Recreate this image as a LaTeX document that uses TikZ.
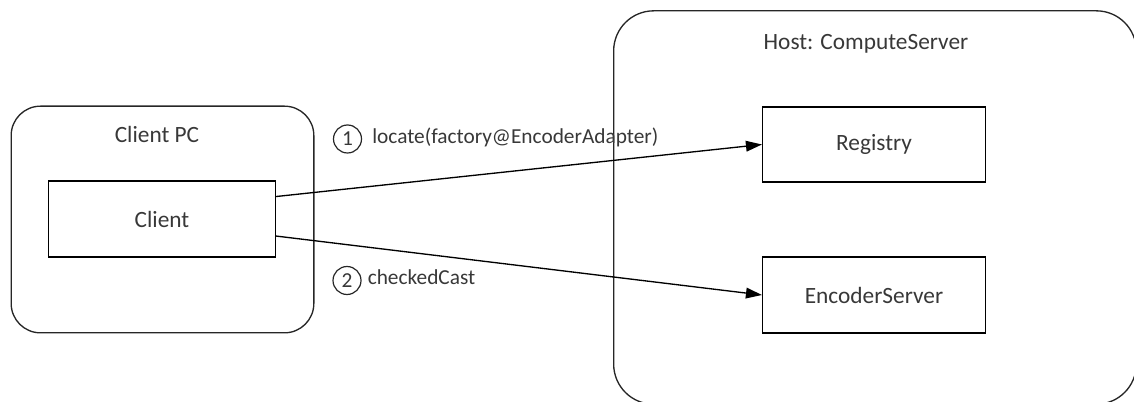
\documentclass[tikz,border=0pt]{standalone}
\usepackage{fontspec}
\setmainfont{Carlito}
\usetikzlibrary{arrows.meta,calc}
\definecolor{txt}{HTML}{383838}
\begin{document}
\begin{tikzpicture}[x=0.75pt,y=-0.75pt,
  font=\fontsize{17.5}{20}\selectfont,
  every node/.style={text=txt},
  lbl/.style={font=\fontsize{16}{19}\selectfont},
  box/.style={draw=black,line width=1.1pt,minimum width=#1,inner sep=0pt},
  group/.style={draw=black!85,line width=1pt,inner sep=0pt},
  num/.style={circle,draw=black!85,line width=0.9pt,inner sep=0pt,minimum size=21pt,font=\fontsize{16}{19}\selectfont},
  conn/.style={line width=1pt,-{Triangle[length=12pt,width=8pt]}}]
\useasboundingbox (0,0) rectangle (1134,402);
\clip (0,0) rectangle (1134,402);
% groups
\node[group,rounded corners=22pt,minimum width=227pt,minimum height=170pt] (clientpc) at (162.5,219.5) {};
\node[group,rounded corners=30pt,minimum width=392pt,minimum height=295pt] (host) at (875,207.5) {};
\node (clientpclbl) at (157,134) {Client PC};
\node (hostlbl) at (866,44) {Host: ComputeServer};
% boxes
\node[box=170pt,minimum height=57pt] (client) at (162,219) {Client};
\node[box=167pt,minimum height=56pt] (registry) at (874,144.5) {Registry};
\node[box=167pt,minimum height=57pt] (encoder) at (874,295) {EncoderServer};
% connectors
\draw[conn] ($(client.north east)!0.21!(client.south east)$) -- (registry.west);
\draw[conn] ($(client.north east)!0.72!(client.south east)$) -- (encoder.west);
% labels
\node[num] (n1) at (347.5,139) {1};
\node[lbl,anchor=west,inner sep=0pt] (l1) at (372,137) {locate(factory@EncoderAdapter)};
\node[num] (n2) at (347,280.5) {2};
\node[lbl,anchor=west,inner sep=0pt] (l2) at (367.5,277) {checkedCast};
\end{tikzpicture}
\end{document}
